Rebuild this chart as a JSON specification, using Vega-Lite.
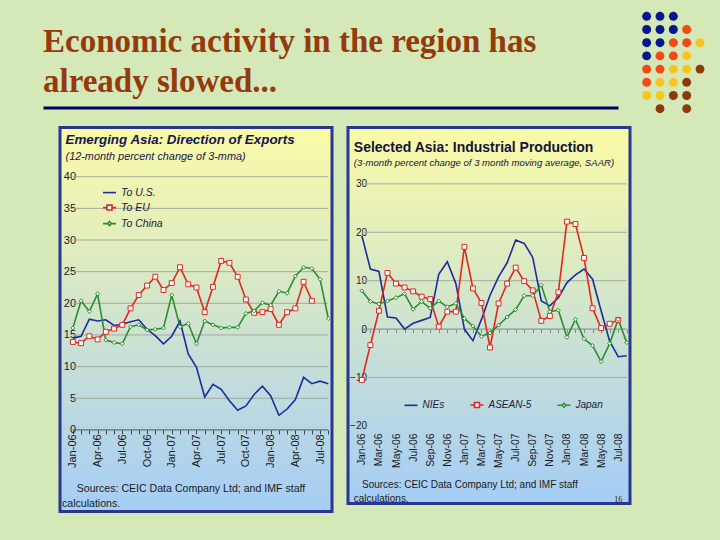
{
"$schema": "https://vega.github.io/schema/vega-lite/v6.json",
"background": "#d5e8b8",
"padding": {"left": 43, "top": 9.7, "right": 14, "bottom": 30},
"autosize": {"type": "pad"},
"bounds": "full",
"spacing": 9.7,
"resolve": {"scale": {"color": "independent", "shape": "independent", "size": "independent"}, "legend": {"color": "independent", "shape": "independent", "size": "independent"}},
"config": {
  "view": {"stroke": null},
  "font": "Liberation Sans",
  "axis": {"labelFont": "Liberation Sans", "titleFont": "Liberation Sans", "labelColor": "#1a1a1a", "titleColor": "#1a1a1a"},
  "legend": {"labelFont": "Liberation Sans"}
},
"datasets": {
  "exp": [
    {"s":"To U.S.","m":"Jan-06","v":14.5},{"s":"To U.S.","m":"Feb-06","v":14.8},{"s":"To U.S.","m":"Mar-06","v":17.5},{"s":"To U.S.","m":"Apr-06","v":17.2},{"s":"To U.S.","m":"May-06","v":17.4},{"s":"To U.S.","m":"Jun-06","v":16.5},{"s":"To U.S.","m":"Jul-06","v":16.7},{"s":"To U.S.","m":"Aug-06","v":17.1},{"s":"To U.S.","m":"Sep-06","v":17.4},{"s":"To U.S.","m":"Oct-06","v":15.9},{"s":"To U.S.","m":"Nov-06","v":14.9},{"s":"To U.S.","m":"Dec-06","v":13.6},{"s":"To U.S.","m":"Jan-07","v":14.8},{"s":"To U.S.","m":"Feb-07","v":17.2},{"s":"To U.S.","m":"Mar-07","v":12.0},{"s":"To U.S.","m":"Apr-07","v":9.9},{"s":"To U.S.","m":"May-07","v":5.2},{"s":"To U.S.","m":"Jun-07","v":7.2},{"s":"To U.S.","m":"Jul-07","v":6.4},{"s":"To U.S.","m":"Aug-07","v":4.6},{"s":"To U.S.","m":"Sep-07","v":3.1},{"s":"To U.S.","m":"Oct-07","v":3.8},{"s":"To U.S.","m":"Nov-07","v":5.6},{"s":"To U.S.","m":"Dec-07","v":6.9},{"s":"To U.S.","m":"Jan-08","v":5.4},{"s":"To U.S.","m":"Feb-08","v":2.3},{"s":"To U.S.","m":"Mar-08","v":3.3},{"s":"To U.S.","m":"Apr-08","v":4.8},{"s":"To U.S.","m":"May-08","v":8.3},{"s":"To U.S.","m":"Jun-08","v":7.3},{"s":"To U.S.","m":"Jul-08","v":7.7},{"s":"To U.S.","m":"Aug-08","v":7.3},
    {"s":"To EU","m":"Jan-06","v":13.9},{"s":"To EU","m":"Feb-06","v":13.7},{"s":"To EU","m":"Mar-06","v":14.8},{"s":"To EU","m":"Apr-06","v":14.3},{"s":"To EU","m":"May-06","v":15.5},{"s":"To EU","m":"Jun-06","v":16.0},{"s":"To EU","m":"Jul-06","v":16.6},{"s":"To EU","m":"Aug-06","v":19.2},{"s":"To EU","m":"Sep-06","v":21.3},{"s":"To EU","m":"Oct-06","v":22.8},{"s":"To EU","m":"Nov-06","v":24.2},{"s":"To EU","m":"Dec-06","v":22.1},{"s":"To EU","m":"Jan-07","v":23.2},{"s":"To EU","m":"Feb-07","v":25.7},{"s":"To EU","m":"Mar-07","v":23.0},{"s":"To EU","m":"Apr-07","v":22.5},{"s":"To EU","m":"May-07","v":18.6},{"s":"To EU","m":"Jun-07","v":22.6},{"s":"To EU","m":"Jul-07","v":26.7},{"s":"To EU","m":"Aug-07","v":26.4},{"s":"To EU","m":"Sep-07","v":24.2},{"s":"To EU","m":"Oct-07","v":20.6},{"s":"To EU","m":"Nov-07","v":18.5},{"s":"To EU","m":"Dec-07","v":18.6},{"s":"To EU","m":"Jan-08","v":19.1},{"s":"To EU","m":"Feb-08","v":16.6},{"s":"To EU","m":"Mar-08","v":18.6},{"s":"To EU","m":"Apr-08","v":19.2},{"s":"To EU","m":"May-08","v":23.4},{"s":"To EU","m":"Jun-08","v":20.4},
    {"s":"To China","m":"Jan-06","v":16.1},{"s":"To China","m":"Feb-06","v":20.4},{"s":"To China","m":"Mar-06","v":18.7},{"s":"To China","m":"Apr-06","v":21.5},{"s":"To China","m":"May-06","v":14.2},{"s":"To China","m":"Jun-06","v":13.8},{"s":"To China","m":"Jul-06","v":13.6},{"s":"To China","m":"Aug-06","v":16.3},{"s":"To China","m":"Sep-06","v":16.6},{"s":"To China","m":"Oct-06","v":15.8},{"s":"To China","m":"Nov-06","v":15.9},{"s":"To China","m":"Dec-06","v":16.1},{"s":"To China","m":"Jan-07","v":21.3},{"s":"To China","m":"Feb-07","v":16.3},{"s":"To China","m":"Mar-07","v":16.8},{"s":"To China","m":"Apr-07","v":13.6},{"s":"To China","m":"May-07","v":17.2},{"s":"To China","m":"Jun-07","v":16.6},{"s":"To China","m":"Jul-07","v":16.1},{"s":"To China","m":"Aug-07","v":16.2},{"s":"To China","m":"Sep-07","v":16.2},{"s":"To China","m":"Oct-07","v":18.4},{"s":"To China","m":"Nov-07","v":18.8},{"s":"To China","m":"Dec-07","v":20.1},{"s":"To China","m":"Jan-08","v":19.7},{"s":"To China","m":"Feb-08","v":21.9},{"s":"To China","m":"Mar-08","v":21.6},{"s":"To China","m":"Apr-08","v":24.3},{"s":"To China","m":"May-08","v":25.7},{"s":"To China","m":"Jun-08","v":25.5},{"s":"To China","m":"Jul-08","v":23.8},{"s":"To China","m":"Aug-08","v":17.6}
  ],
  "ip": [
    {"s":"NIEs","m":"Jan-06","v":19.3},{"s":"NIEs","m":"Feb-06","v":12.4},{"s":"NIEs","m":"Mar-06","v":11.9},{"s":"NIEs","m":"Apr-06","v":2.5},{"s":"NIEs","m":"May-06","v":2.3},{"s":"NIEs","m":"Jun-06","v":0.0},{"s":"NIEs","m":"Jul-06","v":1.2},{"s":"NIEs","m":"Aug-06","v":1.8},{"s":"NIEs","m":"Sep-06","v":2.4},{"s":"NIEs","m":"Oct-06","v":11.3},{"s":"NIEs","m":"Nov-06","v":13.9},{"s":"NIEs","m":"Dec-06","v":9.4},{"s":"NIEs","m":"Jan-07","v":0.0},{"s":"NIEs","m":"Feb-07","v":-2.4},{"s":"NIEs","m":"Mar-07","v":2.0},{"s":"NIEs","m":"Apr-07","v":7.0},{"s":"NIEs","m":"May-07","v":10.8},{"s":"NIEs","m":"Jun-07","v":13.7},{"s":"NIEs","m":"Jul-07","v":18.4},{"s":"NIEs","m":"Aug-07","v":17.7},{"s":"NIEs","m":"Sep-07","v":14.8},{"s":"NIEs","m":"Oct-07","v":5.8},{"s":"NIEs","m":"Nov-07","v":4.8},{"s":"NIEs","m":"Dec-07","v":6.5},{"s":"NIEs","m":"Jan-08","v":9.6},{"s":"NIEs","m":"Feb-08","v":11.2},{"s":"NIEs","m":"Mar-08","v":12.4},{"s":"NIEs","m":"Apr-08","v":10.3},{"s":"NIEs","m":"May-08","v":3.8},{"s":"NIEs","m":"Jun-08","v":-2.5},{"s":"NIEs","m":"Jul-08","v":-5.7},{"s":"NIEs","m":"Aug-08","v":-5.5},
    {"s":"ASEAN-5","m":"Jan-06","v":-10.5},{"s":"ASEAN-5","m":"Feb-06","v":-3.3},{"s":"ASEAN-5","m":"Mar-06","v":3.8},{"s":"ASEAN-5","m":"Apr-06","v":11.6},{"s":"ASEAN-5","m":"May-06","v":9.4},{"s":"ASEAN-5","m":"Jun-06","v":8.6},{"s":"ASEAN-5","m":"Jul-06","v":7.8},{"s":"ASEAN-5","m":"Aug-06","v":6.7},{"s":"ASEAN-5","m":"Sep-06","v":6.2},{"s":"ASEAN-5","m":"Oct-06","v":0.5},{"s":"ASEAN-5","m":"Nov-06","v":3.6},{"s":"ASEAN-5","m":"Dec-06","v":3.6},{"s":"ASEAN-5","m":"Jan-07","v":17.0},{"s":"ASEAN-5","m":"Feb-07","v":8.4},{"s":"ASEAN-5","m":"Mar-07","v":5.4},{"s":"ASEAN-5","m":"Apr-07","v":-3.8},{"s":"ASEAN-5","m":"May-07","v":5.3},{"s":"ASEAN-5","m":"Jun-07","v":9.4},{"s":"ASEAN-5","m":"Jul-07","v":12.7},{"s":"ASEAN-5","m":"Aug-07","v":9.9},{"s":"ASEAN-5","m":"Sep-07","v":8.0},{"s":"ASEAN-5","m":"Oct-07","v":1.7},{"s":"ASEAN-5","m":"Nov-07","v":2.7},{"s":"ASEAN-5","m":"Dec-07","v":7.6},{"s":"ASEAN-5","m":"Jan-08","v":22.2},{"s":"ASEAN-5","m":"Feb-08","v":21.7},{"s":"ASEAN-5","m":"Mar-08","v":14.7},{"s":"ASEAN-5","m":"Apr-08","v":4.3},{"s":"ASEAN-5","m":"May-08","v":0.2},{"s":"ASEAN-5","m":"Jun-08","v":1.1},{"s":"ASEAN-5","m":"Jul-08","v":1.9},
    {"s":"Japan","m":"Jan-06","v":7.9},{"s":"Japan","m":"Feb-06","v":5.7},{"s":"Japan","m":"Mar-06","v":5.2},{"s":"Japan","m":"Apr-06","v":5.8},{"s":"Japan","m":"May-06","v":6.5},{"s":"Japan","m":"Jun-06","v":7.3},{"s":"Japan","m":"Jul-06","v":4.1},{"s":"Japan","m":"Aug-06","v":5.7},{"s":"Japan","m":"Sep-06","v":4.3},{"s":"Japan","m":"Oct-06","v":5.8},{"s":"Japan","m":"Nov-06","v":4.6},{"s":"Japan","m":"Dec-06","v":5.3},{"s":"Japan","m":"Jan-07","v":2.2},{"s":"Japan","m":"Feb-07","v":0.6},{"s":"Japan","m":"Mar-07","v":-1.5},{"s":"Japan","m":"Apr-07","v":-0.8},{"s":"Japan","m":"May-07","v":0.8},{"s":"Japan","m":"Jun-07","v":2.5},{"s":"Japan","m":"Jul-07","v":4.0},{"s":"Japan","m":"Aug-07","v":6.9},{"s":"Japan","m":"Sep-07","v":6.9},{"s":"Japan","m":"Oct-07","v":9.1},{"s":"Japan","m":"Nov-07","v":3.6},{"s":"Japan","m":"Dec-07","v":3.9},{"s":"Japan","m":"Jan-08","v":-1.7},{"s":"Japan","m":"Feb-08","v":2.0},{"s":"Japan","m":"Mar-08","v":-2.0},{"s":"Japan","m":"Apr-08","v":-3.4},{"s":"Japan","m":"May-08","v":-6.7},{"s":"Japan","m":"Jun-08","v":-3.0},{"s":"Japan","m":"Jul-08","v":2.0},{"s":"Japan","m":"Aug-08","v":-2.8}
  ]
},
"vconcat": [
  {
    "bounds": "flush",
    "spacing": 22,
    "resolve": {"scale": {"color": "independent"}, "legend": {"color": "independent"}},
    "hconcat": [
      {
        "width": 575,
        "height": 97.8,
        "view": {"fill": "#d5e8b8", "stroke": null},
        "data": {"values": [{"line": 1, "t": "Economic activity in the region has"}, {"line": 2, "t": "already slowed..."}]},
        "mark": {"type": "text", "align": "left", "baseline": "alphabetic", "font": "Liberation Serif", "fontWeight": "bold", "fontSize": 33, "color": "#943a0d"},
        "encoding": {
          "x": {"datum": 0, "type": "quantitative", "scale": {"domain": [0, 1]}, "axis": {"domain": true, "domainColor": "#00005e", "domainWidth": 3, "ticks": false, "labels": false, "grid": false, "title": null}},
          "y": {"field": "line", "type": "quantitative", "scale": {"domain": [-0.0575, 2.3875], "reverse": true, "nice": false, "zero": false}, "axis": null},
          "text": {"field": "t"}
        }
      },
      {
        "width": 66.7,
        "height": 105.6,
        "view": {"fill": "#d5e8b8", "stroke": null},
        "data": {"values": [
          {"c":0,"r":0,"k":"navy"},{"c":1,"r":0,"k":"navy"},{"c":2,"r":0,"k":"navy"},
          {"c":0,"r":1,"k":"navy"},{"c":1,"r":1,"k":"navy"},{"c":2,"r":1,"k":"navy"},{"c":3,"r":1,"k":"orange"},
          {"c":0,"r":2,"k":"navy"},{"c":1,"r":2,"k":"navy"},{"c":2,"r":2,"k":"orange"},{"c":3,"r":2,"k":"orange"},{"c":4,"r":2,"k":"yellow"},
          {"c":0,"r":3,"k":"navy"},{"c":1,"r":3,"k":"orange"},{"c":2,"r":3,"k":"orange"},{"c":3,"r":3,"k":"yellow"},
          {"c":0,"r":4,"k":"orange"},{"c":1,"r":4,"k":"orange"},{"c":2,"r":4,"k":"yellow"},{"c":3,"r":4,"k":"yellow"},{"c":4,"r":4,"k":"brown"},
          {"c":0,"r":5,"k":"orange"},{"c":1,"r":5,"k":"yellow"},{"c":2,"r":5,"k":"yellow"},{"c":3,"r":5,"k":"brown"},
          {"c":0,"r":6,"k":"yellow"},{"c":1,"r":6,"k":"yellow"},{"c":2,"r":6,"k":"brown"},{"c":3,"r":6,"k":"brown"},
          {"c":1,"r":7,"k":"brown"},{"c":3,"r":7,"k":"brown"}
        ]},
        "mark": {"type": "circle", "size": 80, "opacity": 1},
        "encoding": {
          "x": {"field": "c", "type": "quantitative", "scale": {"domain": [-0.5, 4.5], "nice": false, "zero": false}, "axis": null},
          "y": {"field": "r", "type": "quantitative", "scale": {"domain": [-0.5, 7.5], "reverse": true, "nice": false, "zero": false}, "axis": null},
          "color": {"field": "k", "type": "nominal", "scale": {"domain": ["navy", "orange", "yellow", "brown"], "range": ["#06168c", "#f24a14", "#f8c51e", "#8c3a0a"]}, "legend": null}
        }
      }
    ]
  },
  {
    "bounds": "flush",
    "spacing": 16,
    "resolve": {"scale": {"color": "independent", "shape": "independent", "size": "independent"}, "legend": {"color": "independent", "shape": "independent", "size": "independent"}},
    "hconcat": [
      {
        "width": 0.5,
        "height": 1,
        "view": {"fill": "#d5e8b8", "stroke": null},
        "data": {"values": []},
        "mark": {"type": "point", "opacity": 0}
      },
      {
        "width": 272,
        "height": 384,
        "view": {"fill": {"gradient": "linear", "x1": 0, "y1": 0, "x2": 0, "y2": 1, "stops": [{"offset": 0, "color": "#fbfba6"}, {"offset": 1, "color": "#a5cdf6"}]}, "stroke": "#2a3790", "strokeWidth": 3},
        "title": {"text": "Emerging Asia: Direction of Exports", "subtitle": "(12-month percent change of 3-mma)", "anchor": "start", "frame": "group", "offset": -34.1, "dx": 5.5, "font": "Liberation Sans", "fontSize": 13.4, "fontWeight": "bold", "fontStyle": "italic", "color": "#16164e", "subtitleFont": "Liberation Sans", "subtitleFontSize": 10.9, "subtitleFontStyle": "italic", "subtitleColor": "#16164e", "subtitlePadding": 3.9},
        "layer": [
          {
            "data": {"values": [{"g":5},{"g":10},{"g":15},{"g":20},{"g":25},{"g":30},{"g":35},{"g":40}]},
            "mark": {"type": "rule", "color": "#a3ab9c", "strokeWidth": 1},
            "encoding": {
              "y": {"field": "g", "type": "quantitative"},
              "x": {"datum": "Jan-06", "type": "ordinal"},
              "x2": {"datum": "Aug-08"}
            }
          },
          {
            "data": {"values": [{"g":0}]},
            "mark": {"type": "rule", "color": "#4a5566", "strokeWidth": 1},
            "encoding": {
              "y": {"field": "g", "type": "quantitative"},
              "x": {"datum": "Jan-06", "type": "ordinal"},
              "x2": {"datum": "Aug-08"}
            }
          },
          {
            "data": {"name": "exp"},
            "mark": {"type": "line", "strokeWidth": 1.6},
            "encoding": {
              "x": {"field": "m", "type": "ordinal",
                "scale": {"type": "point", "domain": ["Jan-06","Feb-06","Mar-06","Apr-06","May-06","Jun-06","Jul-06","Aug-06","Sep-06","Oct-06","Nov-06","Dec-06","Jan-07","Feb-07","Mar-07","Apr-07","May-07","Jun-07","Jul-07","Aug-07","Sep-07","Oct-07","Nov-07","Dec-07","Jan-08","Feb-08","Mar-08","Apr-08","May-08","Jun-08","Jul-08","Aug-08"], "padding": 2.44, "align": 0.778},
                "axis": {"orient": "bottom", "offset": -81.5, "domain": false, "grid": false, "ticks": true, "tickSize": 4, "tickColor": "#3a4454", "tickWidth": 1, "labelAngle": -90, "labelPadding": 0, "labelFontSize": 11, "labelOverlap": false, "labelBound": false,
                  "labelExpr": "indexof(['Jan','Apr','Jul','Oct'], slice(datum.value,0,3)) >= 0 ? datum.value : ''",
                  "title": ["\u200b\u00a0\u00a0\u00a0\u00a0\u00a0Sources: CEIC Data Company Ltd; and IMF staff", "calculations."],
                  "titleAnchor": "start", "titleAlign": "left", "titleBaseline": "alphabetic", "titleX": 1.5, "titleY": 62, "titleFontSize": 10.6, "titleFontWeight": "normal", "titleLineHeight": 15, "titleAngle": 0}},
              "y": {"field": "v", "type": "quantitative", "scale": {"domain": [-12.87, 47.79], "nice": false, "zero": false},
                "axis": {"orient": "left", "offset": -15.5, "values": [0,5,10,15,20,25,30,35,40], "domain": false, "ticks": false, "tickSize": 0, "grid": false, "labelPadding": 0, "labelFontSize": 11, "title": null}},
              "color": {"field": "s", "type": "nominal", "scale": {"domain": ["To U.S.", "To EU", "To China"], "range": ["#1a2ca0", "#e0281c", "#2f8b2f"]},
                "legend": {"orient": "none", "legendX": 42, "legendY": 57.7, "title": null, "direction": "vertical", "padding": 0, "labelFontStyle": "italic", "labelFontSize": 10.5, "labelColor": "#1a1a3a", "labelOffset": 4, "symbolSize": 170, "symbolStrokeWidth": 1.6, "rowPadding": 2,
                  "encode": {"symbols": {"update": {"shape": {"signal": "datum.value === 'To EU' ? 'M-1,0H-0.38M0.38,0H1M-0.38,-0.38H0.38V0.38H-0.38Z' : datum.value === 'To China' ? 'M-1,0H-0.3M0.3,0H1M0,-0.3L0.3,0L0,0.3L-0.3,0Z' : 'M-1,0H1'"}, "fill": {"value": "white"}}}}}}
            }
          },
          {
            "data": {"name": "exp"},
            "transform": [{"filter": "datum.s !== 'To U.S.'"}],
            "mark": {"type": "point", "filled": false, "fill": "white", "fillOpacity": 1, "strokeWidth": 1, "opacity": 1},
            "encoding": {
              "x": {"field": "m", "type": "ordinal"},
              "y": {"field": "v", "type": "quantitative"},
              "color": {"field": "s", "type": "nominal"},
              "shape": {"field": "s", "type": "nominal", "scale": {"domain": ["To EU", "To China"], "range": ["square", "diamond"]}, "legend": null},
              "size": {"field": "s", "type": "nominal", "scale": {"domain": ["To EU", "To China"], "range": [24, 16]}, "legend": null}
            }
          }
        ]
      },
      {
        "width": 282,
        "height": 376,
        "view": {"fill": {"gradient": "linear", "x1": 0, "y1": 0, "x2": 0, "y2": 1, "stops": [{"offset": 0, "color": "#fbfba6"}, {"offset": 1, "color": "#a5cdf6"}]}, "stroke": "#2a3790", "strokeWidth": 3},
        "title": {"text": "Selected Asia: Industrial Production", "subtitle": "(3-month percent change of 3 month moving average, SAAR)", "anchor": "start", "frame": "group", "offset": -39.8, "dx": 5.8, "font": "Liberation Sans", "fontSize": 14, "fontWeight": "bold", "color": "#14143a", "subtitleFont": "Liberation Sans", "subtitleFontSize": 9.6, "subtitleFontStyle": "italic", "subtitleColor": "#14143a", "subtitlePadding": 2.1},
        "layer": [
          {
            "data": {"values": [{"g":-10},{"g":10},{"g":20},{"g":30}]},
            "mark": {"type": "rule", "color": "#a3ab9c", "strokeWidth": 1},
            "encoding": {
              "y": {"field": "g", "type": "quantitative"},
              "x": {"datum": "Jan-06", "type": "ordinal"},
              "x2": {"datum": "Aug-08"}
            }
          },
          {
            "data": {"values": [{"g":0}]},
            "mark": {"type": "rule", "color": "#7f8c8c", "strokeWidth": 1},
            "encoding": {
              "y": {"field": "g", "type": "quantitative"},
              "x": {"datum": "Jan-06", "type": "ordinal"},
              "x2": {"datum": "Aug-08"}
            }
          },
          {
            "data": {"name": "ip"},
            "mark": {"type": "line", "strokeWidth": 1.6},
            "encoding": {
              "x": {"field": "m", "type": "ordinal",
                "scale": {"type": "point", "domain": ["Jan-06","Feb-06","Mar-06","Apr-06","May-06","Jun-06","Jul-06","Aug-06","Sep-06","Oct-06","Nov-06","Dec-06","Jan-07","Feb-07","Mar-07","Apr-07","May-07","Jun-07","Jul-07","Aug-07","Sep-07","Oct-07","Nov-07","Dec-07","Jan-08","Feb-08","Mar-08","Apr-08","May-08","Jun-08","Jul-08","Aug-08"], "padding": 2.414, "align": 0.81},
                "axis": {"orient": "bottom", "offset": -174.3, "domain": false, "grid": false, "ticks": true, "tickSize": 3.5, "tickColor": "#7f8c8c", "tickWidth": 1, "labelAngle": -90, "labelPadding": 100.3, "labelFontSize": 10.4, "labelOverlap": false, "labelBound": false,
                  "labelExpr": "indexof(['Jan','Mar','May','Jul','Sep','Nov'], slice(datum.value,0,3)) >= 0 ? datum.value : ''",
                  "title": ["\u200b\u00a0\u00a0\u00a0Sources: CEIC Data Company Ltd; and IMF staff", "calculations."],
                  "titleAnchor": "start", "titleAlign": "left", "titleBaseline": "alphabetic", "titleX": 5.2, "titleY": 158.8, "titleFontSize": 10, "titleFontWeight": "normal", "titleLineHeight": 13.5, "titleAngle": 0}},
              "y": {"field": "v", "type": "quantitative", "scale": {"domain": [-36.01, 41.67], "nice": false, "zero": false},
                "axis": {"orient": "left", "offset": -18.5, "values": [-20,-10,0,10,20,30], "domain": false, "ticks": false, "tickSize": 0, "grid": false, "labelPadding": 0, "labelFontSize": 10, "title": null}},
              "color": {"field": "s", "type": "nominal", "scale": {"domain": ["NIEs", "ASEAN-5", "Japan"], "range": ["#1a2ca0", "#e0281c", "#2f8b2f"]},
                "legend": {"orient": "none", "legendX": 55.5, "legendY": 269.7, "title": null, "direction": "horizontal", "padding": 0, "labelFontStyle": "italic", "labelFontSize": 10, "labelColor": "#1a1a3a", "labelOffset": 4, "symbolSize": 170, "symbolStrokeWidth": 1.6, "columnPadding": 22,
                  "encode": {"symbols": {"update": {"shape": {"signal": "datum.value === 'ASEAN-5' ? 'M-1,0H-0.38M0.38,0H1M-0.38,-0.38H0.38V0.38H-0.38Z' : datum.value === 'Japan' ? 'M-1,0H-0.3M0.3,0H1M0,-0.3L0.3,0L0,0.3L-0.3,0Z' : 'M-1,0H1'"}, "fill": {"value": "white"}}}}}}
            }
          },
          {
            "data": {"name": "ip"},
            "transform": [{"filter": "datum.s !== 'NIEs'"}],
            "mark": {"type": "point", "filled": false, "fill": "white", "fillOpacity": 1, "strokeWidth": 1, "opacity": 1},
            "encoding": {
              "x": {"field": "m", "type": "ordinal"},
              "y": {"field": "v", "type": "quantitative"},
              "color": {"field": "s", "type": "nominal"},
              "shape": {"field": "s", "type": "nominal", "scale": {"domain": ["ASEAN-5", "Japan"], "range": ["square", "diamond"]}, "legend": null},
              "size": {"field": "s", "type": "nominal", "scale": {"domain": ["ASEAN-5", "Japan"], "range": [24, 16]}, "legend": null}
            }
          },
          {
            "data": {"values": [{"t": "16"}]},
            "mark": {"type": "text", "font": "Liberation Serif", "fontSize": 8, "color": "#222222", "align": "center", "baseline": "middle"},
            "encoding": {
              "x": {"datum": "Jul-08", "type": "ordinal"},
              "y": {"datum": -35.3, "type": "quantitative"},
              "text": {"field": "t"}
            }
          }
        ]
      }
    ]
  }
]
}
